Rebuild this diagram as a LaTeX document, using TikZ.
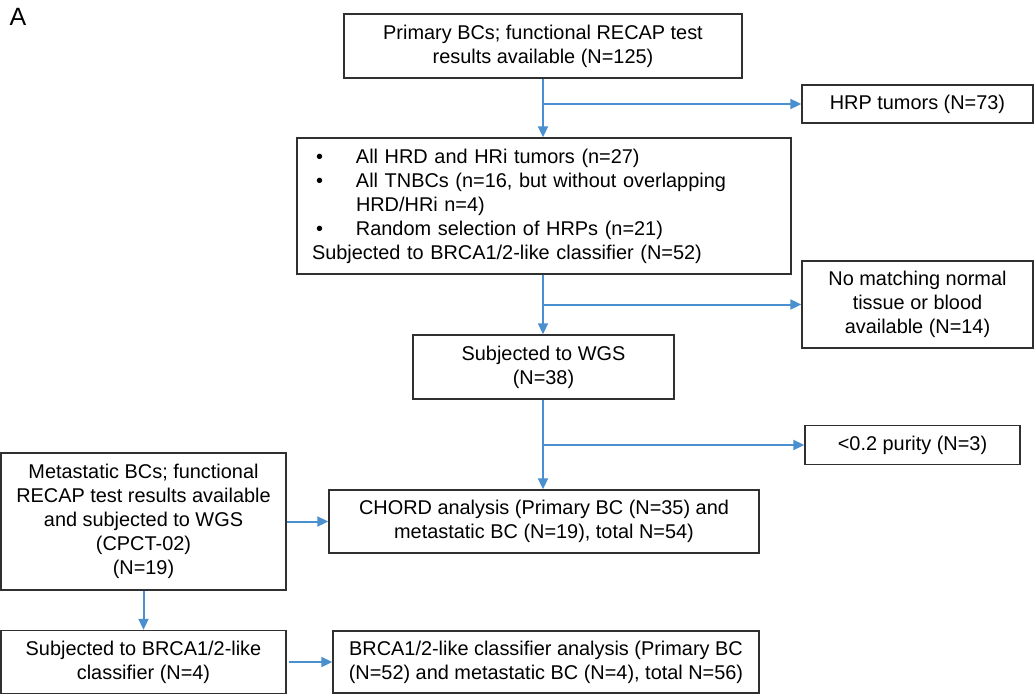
\documentclass[tikz,border=0pt]{standalone}
\usepackage{fontspec}
\setmainfont{Liberation Sans}
\usetikzlibrary{arrows.meta, positioning}
\definecolor{flowblue}{HTML}{4A90CF}
\definecolor{flowframe}{HTML}{303030}

\begin{document}
\begin{tikzpicture}[
  x=1pt, y=-1pt,
  box/.style={draw=flowframe, line width=1.4pt, align=center, inner sep=0pt, font=\fontsize{19.9}{24}\selectfont},
  arr/.style={-{Triangle[length=11pt, width=10pt]}, line width=2pt, flowblue}
]
\useasboundingbox (0,0) rectangle (1036,695);
\node[font=\fontsize{25}{30}\selectfont] (lab) at (18,17) {A};

% main column
\node[box, minimum width=398pt, minimum height=64pt] (prim) at (543,46) {Primary BCs; functional RECAP test\\ results available (N=125)};
\node[box, align=left, text width=464pt, inner xsep=15pt, minimum height=136pt] (sel) at (544,206) {%
\makebox[44pt][l]{\hspace{4pt}\textbullet}All HRD and HRi tumors (n=27)\\
\makebox[44pt][l]{\hspace{4pt}\textbullet}All TNBCs (n=16, but without overlapping\\
\makebox[44pt][l]{}HRD/HRi n=4)\\
\makebox[44pt][l]{\hspace{4pt}\textbullet}Random selection of HRPs (n=21)\\
Subjected to BRCA1/2-like classifier (N=52)};
\node[box, minimum width=261pt, minimum height=64pt] (wgs) at (543.5,367) {Subjected to WGS\\ (N=38)};
\node[box, minimum width=430pt, minimum height=63pt] (chord) at (544,521.5) {CHORD analysis (Primary BC (N=35) and\\ metastatic BC (N=19), total N=54)};

% excluded
\node[box, minimum width=231pt, minimum height=38pt] (hrp) at (917.5,104) {HRP tumors (N=73)};
\node[box, minimum width=231pt, minimum height=87pt] (nomatch) at (917.5,304.5) {No matching normal\\ tissue or blood\\ available (N=14)};
\node[box, minimum width=215pt, minimum height=39pt] (purity) at (912.5,445) {<0.2 purity (N=3)};

% metastatic column
\node[box, minimum width=285pt, minimum height=137pt] (meta) at (143.5,521.5) {Metastatic BCs; functional\\ RECAP test results available\\ and subjected to WGS\\ (CPCT-02)\\ (N=19)};
\node[box, minimum width=285pt, minimum height=63pt] (sub4) at (143.5,662) {Subjected to BRCA1/2-like\\ classifier (N=4)};
\node[box, minimum width=426pt, minimum height=62pt] (brca) at (546,662) {BRCA1/2-like classifier analysis (Primary BC\\ (N=52) and metastatic BC (N=4), total N=56)};

\coordinate (j1) at (prim.south |- hrp.west);
\coordinate (j2) at (prim.south |- nomatch.west);
\coordinate (j3) at (prim.south |- purity.west);

\draw[arr] (prim.south) -- (prim.south |- sel.north);
\draw[arr] (j1) -- (hrp.west);
\draw[arr] (prim.south |- sel.south) -- (prim.south |- wgs.north);
\draw[arr] (j2) -- (nomatch.west);
\draw[arr] (prim.south |- wgs.south) -- (prim.south |- chord.north);
\draw[arr] (j3) -- (purity.west);
\draw[arr] (meta.east) -- (chord.west);
\draw[arr] (meta.south) -- (sub4.north);
\draw[arr, shorten <=2pt] (sub4.east) -- (brca.west);
\end{tikzpicture}
\end{document}
